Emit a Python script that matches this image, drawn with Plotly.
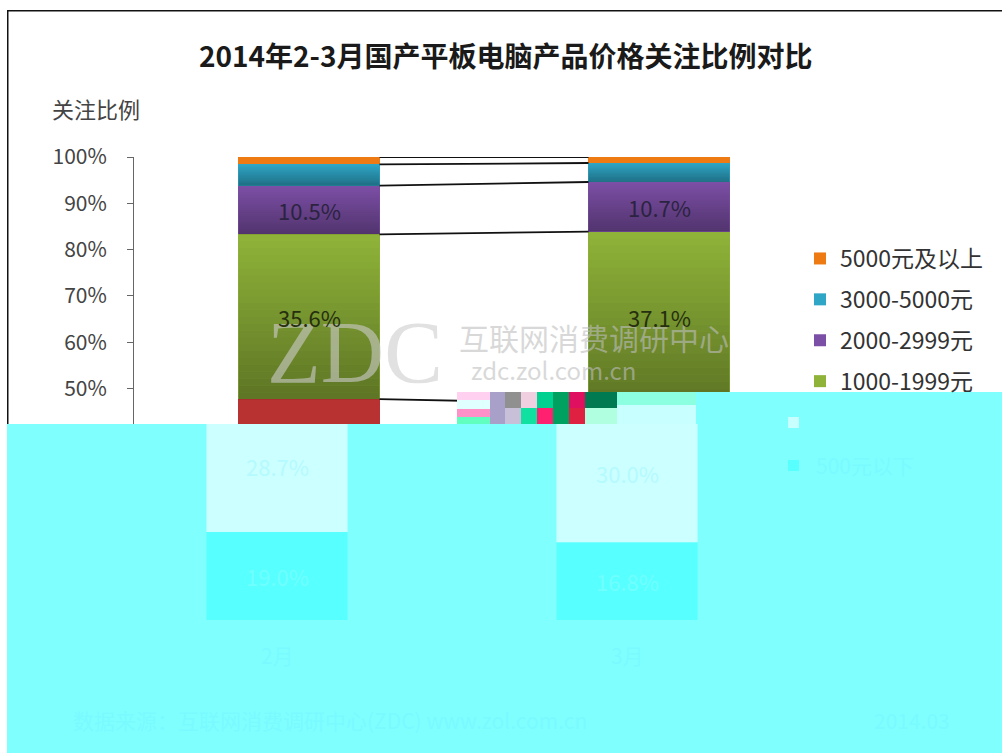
import plotly.graph_objects as go

categories = ["2月", "3月"]
price_bands = ["500元以下", "500-999元", "1000-1999元", "2000-2999元", "3000-5000元", "5000元及以上"]
feb_values = [19.0, 28.7, 35.6, 10.5, 4.6, 1.6]
mar_values = [16.8, 30.0, 37.1, 10.7, 4.1, 1.3]
band_colors = ["#4A7EBB", "#B93232", "#8FB339", "#7C4FA6", "#2FA6C6", "#EE7A14"]
y_ticks = [0, 10, 20, 30, 40, 50, 60, 70, 80, 90, 100]
y_tick_labels = ["0%", "10%", "20%", "30%", "40%", "50%", "60%", "70%", "80%", "90%", "100%"]

W, H = 1002, 753
L, R, T, B = 134, 834, 157, 620
FONT = "Noto Sans CJK SC"
CYAN = "#80FFFF"
FAINT = "#79FAFF"
BAR_W = 0.403
SHIFT = 32 / 350  # lower part of the picture is displaced to the left
DAMAGE_TOP = (B - 424) / (B - T) * 100


def px(x):
    return (x - L) / (R - L)


def py(y):
    return (B - y) / (B - T)


fig = go.Figure()
series = [feb_values, mar_values]
positions = list(range(len(categories)))

for k, band in enumerate(price_bands):
    fig.add_trace(go.Bar(
        x=positions, y=[feb_values[k], mar_values[k]], name=band,
        width=BAR_W, legendgroup=band, showlegend=k >= 2, legendrank=100 - k,
        marker=dict(color=band_colors[k], line=dict(width=0)),
    ))

# connector lines between the stacks
cum_feb, cum_mar = 0, 0
for k in range(len(price_bands)):
    cum_feb += feb_values[k]
    cum_mar += mar_values[k]
    fig.add_trace(go.Scatter(
        x=[BAR_W / 2, 1 - BAR_W / 2], y=[cum_feb, cum_mar], mode="lines",
        line=dict(color="#111111", width=1.8),
        showlegend=False, hoverinfo="skip",
    ))

shapes = []


def rect(x0, y0, x1, y1, color):
    shapes.append(dict(type="rect", xref="paper", yref="paper", x0=px(x0), x1=px(x1),
                       y0=py(y0), y1=py(y1), fillcolor=color, line=dict(width=0), layer="above"))


# soft shading down each segment
for i, vals in enumerate(series):
    base = 0
    for k, v in enumerate(vals):
        if 2 <= k <= 4:
            n = 24
            for s in range(n):
                shapes.append(dict(
                    type="rect", xref="x", yref="y",
                    x0=i - BAR_W / 2, x1=i + BAR_W / 2,
                    y0=base + v * s / n, y1=base + v * (s + 1) / n,
                    fillcolor="black", opacity=0.34 * (n - 1 - s) / (n - 1),
                    line=dict(width=0), layer="above",
                ))
        base += v

# image frame
rect(7, 10, W, 11.5, "#111111")
rect(7, 10, 8.5, 424, "#111111")

# damaged lower part of the picture
rect(7, 424, W, H, CYAN)
rect(696, 392, W, 424, CYAN)
rect(617, 392, 696, 405, "#8CFFE0")
rect(617, 405, 696, 424, "#C8FFFF")
for x0, y0, x1, y1, c in [
    (457, 392, 490, 400, "#FFD0F0"), (457, 400, 490, 409, "#E0FFFF"), (457, 409, 490, 417, "#FF90C8"),
    (457, 417, 490, 424, "#60FFC0"), (490, 392, 505, 424, "#A8A0C8"), (505, 392, 521, 408, "#909090"),
    (505, 408, 521, 424, "#C8C0D8"), (521, 392, 537, 408, "#F0D0E0"), (521, 408, 537, 424, "#10E0A0"),
    (537, 392, 553, 408, "#00D090"), (537, 408, 553, 424, "#FF2070"), (553, 392, 569, 424, "#00A060"),
    (569, 392, 585, 408, "#E01060"), (569, 408, 585, 424, "#E02040"), (585, 392, 617, 408, "#007A50"),
    (585, 408, 617, 424, "#B0FFE0"),
]:
    rect(x0, y0, x1, y1, c)

# displaced lower bar segments drawn from the series
for i, vals in enumerate(series):
    x0, x1 = i - SHIFT - BAR_W / 2, i - SHIFT + BAR_W / 2
    shapes.append(dict(type="rect", xref="x", yref="y", x0=x0, x1=x1, y0=0, y1=vals[0],
                       fillcolor="#58FFFF", line=dict(width=0), layer="above"))
    shapes.append(dict(type="rect", xref="x", yref="y", x0=x0, x1=x1, y0=vals[0],
                       y1=min(vals[0] + vals[1], DAMAGE_TOP),
                       fillcolor="#CCFFFF", line=dict(width=0), layer="above"))
rect(788, 417, 799, 428, "#C8FFFF")
rect(788, 460, 799, 471, "#58FFFF")

annotations = []


def note(x, y, text, size, color="#333333", **kw):
    annotations.append(dict(xref="paper", yref="paper", x=px(x), y=py(y), text=text, showarrow=False,
                            font=dict(family=kw.pop("family", FONT), size=size, color=color),
                            xanchor=kw.pop("xanchor", "center"), yanchor="middle", **kw))


note(505, 55, "<b>2014年2-3月国产平板电脑产品价格关注比例对比</b>", 28, "#1a1a1a")
note(96, 108, "关注比例", 22, "#444444")

# watermark
note(355, 352, "ZDC", 88, "rgba(205,205,205,0.6)", family="Liberation Serif")
note(594, 337, "互联网消费调研中心", 30, "rgba(190,190,190,0.6)")
note(553, 369, "zdc.zol.com.cn", 24, "rgba(190,190,190,0.6)")

# value labels
for i, vals in enumerate(series):
    base = 0
    for k, v in enumerate(vals):
        mid = base + v / 2
        base += v
        ypx = B - mid * (B - T) / 100
        xpx = L + (i + 0.5) * (R - L) / 2
        if k >= 2 and v >= 10:
            note(xpx, ypx, f"{v:.1f}%", 22, "#2b2340" if k == 3 else "#26300f")
        elif v >= 10:
            note(xpx - 32, ypx, f"{v:.1f}%", 22, "#70FFFF" if k == 0 else "#B4FAFF")
    note(L + (i + 0.5) * (R - L) / 2 - 32, 655, categories[i], 21, FAINT)

note(865, 465, price_bands[0], 21, FAINT)
note(330, 720, "数据来源：互联网消费调研中心(ZDC) www.zol.com.cn", 21, FAINT)
note(912, 720, "2014.03", 21, FAINT)

fig.update_layout(
    width=W, height=H,
    margin=dict(l=L, r=W - R, t=T, b=H - B, pad=0),
    paper_bgcolor="white", plot_bgcolor="white",
    barmode="stack", bargap=0,
    shapes=shapes, annotations=annotations,
    font=dict(family=FONT, color="#333333"),
    legend=dict(x=px(800), y=py(237), xanchor="left", yanchor="top", traceorder="grouped",
                font=dict(size=23, family=FONT, color="#333333"), tracegroupgap=8,
                bgcolor="rgba(0,0,0,0)", itemclick=False),
    xaxis=dict(range=[-0.5, 1.5], tickvals=positions, ticktext=categories, showgrid=False, showline=True,
               linecolor="#888888", ticks="", tickfont=dict(size=21, color=CYAN)),
    yaxis=dict(range=[0, 100], tickvals=y_ticks, ticktext=y_tick_labels, showgrid=False, showline=True,
               linecolor="#666666", ticks="outside", ticklen=6, tickcolor="#666666",
               tickfont=dict(size=21, color="#444444"), ticklabelstandoff=16),
)

fig.write_html("out.html", config={"displayModeBar": False},
               post_script="document.body.style.margin='0';document.documentElement.style.overflow='hidden';")
